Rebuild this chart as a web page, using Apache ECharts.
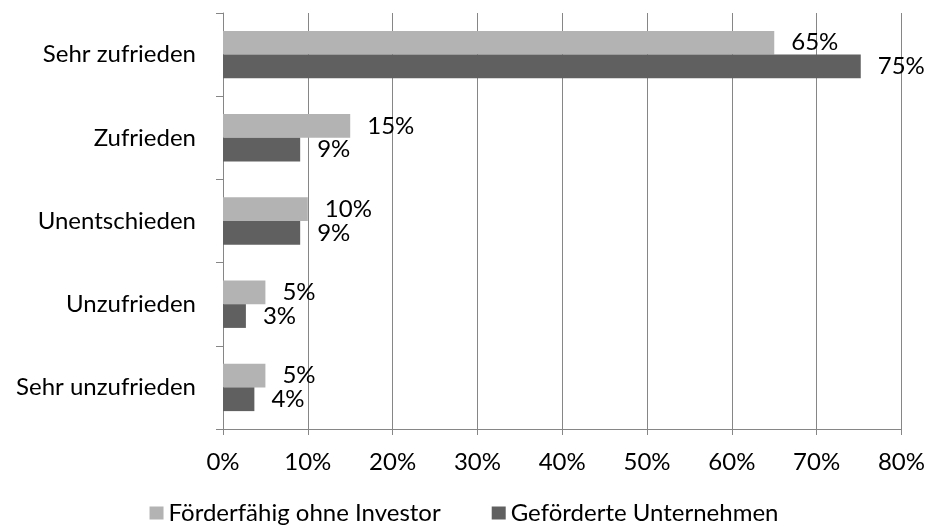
<!DOCTYPE html>
<html lang="de">
<head>
<meta charset="UTF-8">
<title>Zufriedenheit</title>
<style type="text/css">
  html, body { margin: 0; padding: 0; background: #fff; }
  #chart { width: 928px; height: 531px; }
</style>
</head>
<body>
<div id="chart"></div>
<script src="https://cdn.jsdelivr.net/npm/echarts@6/dist/echarts.min.js"></script>
<script type="text/javascript">
// Kategorien von oben nach unten
var categories = ['Sehr zufrieden', 'Zufrieden', 'Unentschieden', 'Unzufrieden', 'Sehr unzufrieden'];
var seriesNames = ['Förderfähig ohne Investor', 'Geförderte Unternehmen'];
var foerderfaehig = [65, 15, 10, 5, 5];
var gefoerdert = [75.2, 9.1, 9.1, 2.7, 3.7];
var xTicks = [0, 10, 20, 30, 40, 50, 60, 70, 80];

var fontFamily = 'Lato, "Open Sans", sans-serif';
var myChart = echarts.init(document.getElementById('chart'));

function pctLabel(p) {
    return Math.round(p.value) + '%';
}

var option = {
    animation: false,
    textStyle: { fontFamily: fontFamily },
    grid: { left: 223, right: 25, top: 13, bottom: 102, containLabel: false },
    legend: {
        bottom: 1,
        left: 'center',
        icon: 'rect',
        itemWidth: 14,
        itemHeight: 13,
        itemGap: 51,
        data: seriesNames,
        textStyle: { fontSize: 24, color: '#000', fontFamily: fontFamily }
    },
    xAxis: {
        type: 'value',
        min: xTicks[0],
        max: xTicks[xTicks.length - 1],
        interval: 10,
        axisLine: { show: true, lineStyle: { color: '#868686', width: 1 } },
        axisTick: { show: true, length: 6, lineStyle: { color: '#868686' } },
        axisLabel: {
            margin: 21,
            fontSize: 24,
            color: '#000',
            formatter: function (v) { return v + '%'; }
        },
        splitLine: { show: true, lineStyle: { color: '#868686', width: 1 } }
    },
    yAxis: {
        type: 'category',
        inverse: true,
        data: categories,
        axisLine: { show: true, lineStyle: { color: '#868686', width: 1 } },
        axisTick: { show: true, length: 7, lineStyle: { color: '#868686' } },
        axisLabel: { margin: 27, fontSize: 24, color: '#000' }
    },
    series: [
        {
            name: seriesNames[0],
            type: 'bar',
            data: foerderfaehig,
            barGap: '0%',
            barCategoryGap: '43%',
            itemStyle: { color: '#B3B3B3' },
            label: {
                show: true,
                position: 'right',
                distance: 17,
                fontSize: 24,
                color: '#000',
                formatter: pctLabel
            }
        },
        {
            name: seriesNames[1],
            type: 'bar',
            data: gefoerdert,
            barGap: '0%',
            barCategoryGap: '43%',
            itemStyle: { color: '#606060' },
            label: {
                show: true,
                position: 'right',
                distance: 17,
                fontSize: 24,
                color: '#000',
                formatter: pctLabel
            }
        }
    ]
};
myChart.setOption(option);
</script>
</body>
</html>
